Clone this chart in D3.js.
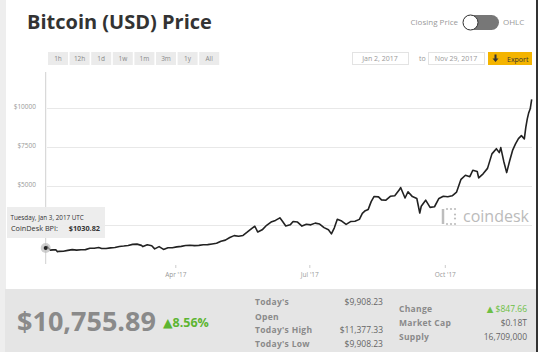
<!DOCTYPE html>
<html>
<head>
<meta charset="utf-8">
<script src="https://cdnjs.cloudflare.com/ajax/libs/d3/7.8.5/d3.min.js"></script>
<style>
  body { margin: 0; background: #fff; }
  text { font-family: "Open Sans", "DejaVu Sans", sans-serif; }
</style>
</head>
<body>
<div id="chart"></div>
<script>
// data
const dates = ["2017-01-03","2017-01-04","2017-01-05","2017-01-06","2017-01-08","2017-01-10","2017-01-11","2017-01-12",
  "2017-01-15","2017-01-18","2017-01-21","2017-01-24","2017-01-27","2017-01-30","2017-02-02","2017-02-05","2017-02-08",
  "2017-02-10","2017-02-13","2017-02-16","2017-02-19","2017-02-22","2017-02-25","2017-02-28","2017-03-03","2017-03-06",
  "2017-03-09","2017-03-10","2017-03-13","2017-03-16","2017-03-18","2017-03-21","2017-03-24","2017-03-27","2017-03-30",
  "2017-04-02","2017-04-05","2017-04-08","2017-04-11","2017-04-14","2017-04-17","2017-04-20","2017-04-23","2017-04-26",
  "2017-04-29","2017-05-02","2017-05-05","2017-05-08","2017-05-11","2017-05-14","2017-05-17","2017-05-20","2017-05-23",
  "2017-05-25","2017-05-27","2017-05-30","2017-06-02","2017-06-05","2017-06-08","2017-06-11","2017-06-13","2017-06-15",
  "2017-06-18","2017-06-20","2017-06-23","2017-06-26","2017-06-29","2017-07-02","2017-07-05","2017-07-08","2017-07-11",
  "2017-07-14","2017-07-16","2017-07-18","2017-07-20","2017-07-23","2017-07-26","2017-07-29","2017-08-01","2017-08-04",
  "2017-08-06","2017-08-08","2017-08-10","2017-08-12","2017-08-14","2017-08-17","2017-08-19","2017-08-22","2017-08-25",
  "2017-08-28","2017-08-31","2017-09-01","2017-09-04","2017-09-06","2017-09-09","2017-09-12","2017-09-14","2017-09-15",
  "2017-09-18","2017-09-21","2017-09-24","2017-09-27","2017-09-30","2017-10-03","2017-10-06","2017-10-09","2017-10-12",
  "2017-10-15","2017-10-18","2017-10-20","2017-10-23","2017-10-24","2017-10-27","2017-10-30","2017-11-02","2017-11-05",
  "2017-11-07","2017-11-08","2017-11-10","2017-11-12","2017-11-14","2017-11-16","2017-11-18","2017-11-20","2017-11-22",
  "2017-11-24","2017-11-25","2017-11-26","2017-11-27","2017-11-28","2017-11-29"];
const prices = [1031,1129,1005,892,908,905,785,812,
  822,872,921,890,918,921,1007,1014,1055,
  994,997,1034,1054,1123,1150,1189,1259,1275,
  1193,1115,1235,1175,970,1113,935,1045,1037,
  1099,1131,1183,1205,1180,1196,1235,1240,1285,
  1328,1457,1530,1695,1820,1780,1830,2052,2287,
  2420,2050,2190,2480,2690,2795,2960,2710,2440,
  2510,2720,2690,2430,2550,2510,2620,2560,2330,
  2190,1930,2320,2870,2750,2540,2720,2740,2860,
  3250,3420,3500,4000,4330,4300,4110,4090,4340,
  4380,4740,4900,4230,4630,4320,4200,3270,3700,
  4090,3630,3670,4200,4340,4310,4370,4610,5430,
  5690,5600,6010,5930,5520,5780,6130,7060,7390,
  7140,7460,6590,5860,6600,7280,7700,8040,8230,
  8020,8760,9300,9700,9950,10560];

const yTicks = [2500, 5000, 7500, 10000];
const yLabelTicks = [5000, 7500, 10000];
const xTicks = ["2017-04-01", "2017-07-01", "2017-10-01"];
const ranges = ["1h", "12h", "1d", "1w", "1m", "3m", "1y", "All"];

const leftStats = [["Today's", "$9,908.23"], ["Open", ""], ["Today's High", "$11,377.33"], ["Today's Low", "$9,908.23"]];
const rightStats = [["Change", "▲ $847.66"], ["Market Cap", "$0.18T"], ["Supply", "16,709,000"]];

const width = 540;
const height = 352;
const parse = d3.timeParse("%Y-%m-%d");
const data = dates.map((d, i) => ({date: parse(d), price: prices[i]}));

const svg = d3.select("#chart")
    .append("svg")
    .attr("width", width)
    .attr("height", height)
    .attr("viewBox", [0, 0, width, height]);

svg.append("rect").attr("width", width).attr("height", height).attr("fill", "#fff");
// left strip and right border
svg.append("rect").attr("x", 0).attr("y", 0).attr("width", 6).attr("height", height).attr("fill", "#eeeeee");
svg.append("rect").attr("x", 536).attr("y", 0).attr("width", 2).attr("height", height).attr("fill", "#333");

// title
svg.append("text")
    .attr("x", 27).attr("y", 29)
    .attr("font-size", "20px")
    .attr("font-weight", 700)
    .attr("fill", "#333")
    .text("Bitcoin (USD) Price");

// range buttons
const btn = svg.append("g").selectAll("g")
    .data(ranges)
    .enter().append("g")
    .attr("transform", (d, i) => `translate(${48 + i * 21.6}, 52)`);
btn.append("rect").attr("width", 20).attr("height", 13).attr("fill", "#ebebeb");
btn.append("text").attr("x", 10).attr("y", 9).attr("text-anchor", "middle")
    .attr("font-size", "6.5px").attr("fill", "#888").text(d => d);

// toggle
svg.append("text").attr("x", 458).attr("y", 25).attr("text-anchor", "end")
    .attr("font-size", "8px").attr("fill", "#999").text("Closing Price");
svg.append("rect").attr("x", 463).attr("y", 15).attr("width", 36).attr("height", 15).attr("rx", 7.5).attr("fill", "#777");
svg.append("circle").attr("cx", 470.5).attr("cy", 22.5).attr("r", 7.5).attr("fill", "#fff").attr("stroke", "#333").attr("stroke-width", 1);
svg.append("text").attr("x", 503).attr("y", 25)
    .attr("font-size", "8px").attr("fill", "#999").text("OHLC");

// date inputs
[[352, "Jan 2, 2017"], [428, "Nov 29, 2017"]].forEach(([x, t]) => {
    svg.append("rect").attr("x", x + 0.5).attr("y", 52.5).attr("width", 56).attr("height", 12)
        .attr("fill", "#fff").attr("stroke", "#e3e3e3");
    svg.append("text").attr("x", x + 28).attr("y", 61).attr("text-anchor", "middle")
        .attr("font-size", "7px").attr("fill", "#999").text(t);
});
svg.append("text").attr("x", 419).attr("y", 61).attr("font-size", "7px").attr("fill", "#999").text("to");
svg.append("rect").attr("x", 488).attr("y", 52).attr("width", 44).attr("height", 13).attr("fill", "#f4b400");
svg.append("path").attr("d", "M494.5,54.5 v4 h-2 l3,3.5 l3,-3.5 h-2 v-4 z").attr("fill", "#333");
svg.append("text").attr("x", 507).attr("y", 61.5).attr("font-size", "7px").attr("fill", "#333").text("Export");

// scales
const x = d3.scaleTime()
    .domain([parse("2017-01-03"), parse("2017-11-29")])
    .range([45.7, 531.7]);
const y = d3.scaleLinear()
    .domain([0, 10000])
    .range([264, 108]);

// gridlines
svg.append("g").selectAll("line")
    .data(yTicks)
    .enter().append("line")
    .attr("x1", 47).attr("x2", 532)
    .attr("y1", d => y(d) + 0.5).attr("y2", d => y(d) + 0.5)
    .attr("stroke", "#e8e8e8");

svg.append("g").selectAll("text")
    .data(yLabelTicks)
    .enter().append("text")
    .attr("x", 36).attr("y", d => y(d) + 0.5)
    .attr("text-anchor", "end")
    .attr("font-size", "6.5px").attr("fill", "#999")
    .text(d => "$" + d);

// x axis
const xAxis = d3.axisBottom(x)
    .tickValues(xTicks.map(parse))
    .tickSize(3)
    .tickFormat(d3.timeFormat("%b '%y"));
const gx = svg.append("g").attr("transform", "translate(0,265)").call(xAxis);
gx.select(".domain").remove();
gx.selectAll(".tick line").attr("stroke", "#ccc");
gx.selectAll(".tick text").attr("font-size", "6.5px").attr("fill", "#999").attr("dy", "0.9em")
    .style("font-family", "'Open Sans', sans-serif");

// watermark
const wm = svg.append("g").attr("fill", "#bdbdbd").attr("stroke", "#bdbdbd");
wm.append("line").attr("x1", 443).attr("x2", 443).attr("y1", 209).attr("y2", 224).attr("stroke-width", 2.5);
[[447, 209], [451, 209], [455, 209], [447, 224], [451, 224], [455, 224], [455, 214.5], [455, 218.5]].forEach(([cx, cy]) => {
    wm.append("circle").attr("cx", cx).attr("cy", cy).attr("r", 1.1).attr("stroke", "none");
});
svg.append("text").attr("x", 463).attr("y", 222).attr("font-size", "16px").attr("fill", "#bbb").text("coindesk");

// crosshair
svg.append("line").attr("x1", 45.7).attr("x2", 45.7).attr("y1", 72).attr("y2", 264)
    .attr("stroke", "#d0d0d0").attr("stroke-width", 1);

// price line
const line = d3.line()
    .x(d => x(d.date))
    .y(d => y(d.price));
svg.append("path")
    .datum(data)
    .attr("d", line)
    .attr("fill", "none")
    .attr("stroke", "#222")
    .attr("stroke-width", 1.6)
    .attr("stroke-linejoin", "round");

// hover point
const p0 = data[0];
svg.append("circle").attr("cx", x(p0.date)).attr("cy", y(p0.price)).attr("r", 5).attr("fill", "#bbb").attr("opacity", 0.7);
svg.append("circle").attr("cx", x(p0.date)).attr("cy", y(p0.price)).attr("r", 2).attr("fill", "#222");

// tooltip
svg.append("rect").attr("x", 7).attr("y", 207).attr("width", 98).attr("height", 31).attr("fill", "#ececec").attr("opacity", 0.95);
svg.append("text").attr("x", 10.5).attr("y", 219.5).attr("font-size", "6.3px").attr("fill", "#333")
    .text("Tuesday, Jan 3, 2017 UTC");
svg.append("text").attr("x", 11).attr("y", 230.5).attr("font-size", "7.3px").attr("fill", "#333")
    .text("CoinDesk BPI:");
svg.append("text").attr("x", 100).attr("y", 230.5).attr("text-anchor", "end").attr("font-size", "7.3px")
    .attr("font-weight", 700).attr("fill", "#333").text("$" + d3.format(".2f")(1030.82));

// bottom panel
svg.append("rect").attr("x", 5).attr("y", 289).attr("width", 531).attr("height", 63).attr("fill", "#e5e5e5");
svg.append("text").attr("x", 17).attr("y", 331).attr("font-size", "27px").attr("font-weight", 700)
    .attr("fill", "#8a8a8a").text("$10,755.89");
svg.append("text").attr("x", 163).attr("y", 327).attr("font-size", "12.5px").attr("font-weight", 700)
    .attr("fill", "#5cb531").text("▲8.56%");

const ls = svg.append("g").selectAll("g").data(leftStats).enter().append("g")
    .attr("transform", (d, i) => `translate(0, ${[305, 319.5, 333, 347][i]})`);
ls.append("text").attr("x", 255).attr("font-size", "8.5px").attr("font-weight", 700).attr("fill", "#8a8a8a")
    .attr("letter-spacing", "0.3px").text(d => d[0]);
ls.append("text").attr("x", 383).attr("text-anchor", "end").attr("font-size", "8.5px").attr("fill", "#666")
    .text(d => d[1]);

const rs = svg.append("g").selectAll("g").data(rightStats).enter().append("g")
    .attr("transform", (d, i) => `translate(0, ${312 + i * 14})`);
rs.append("text").attr("x", 399).attr("font-size", "8.5px").attr("font-weight", 700).attr("fill", "#8a8a8a")
    .attr("letter-spacing", "0.3px").text(d => d[0]);
rs.append("text").attr("x", 527).attr("text-anchor", "end").attr("font-size", "8.5px")
    .attr("fill", (d, i) => i === 0 ? "#6cbf44" : "#666").text(d => d[1]);
</script>
</body>
</html>
